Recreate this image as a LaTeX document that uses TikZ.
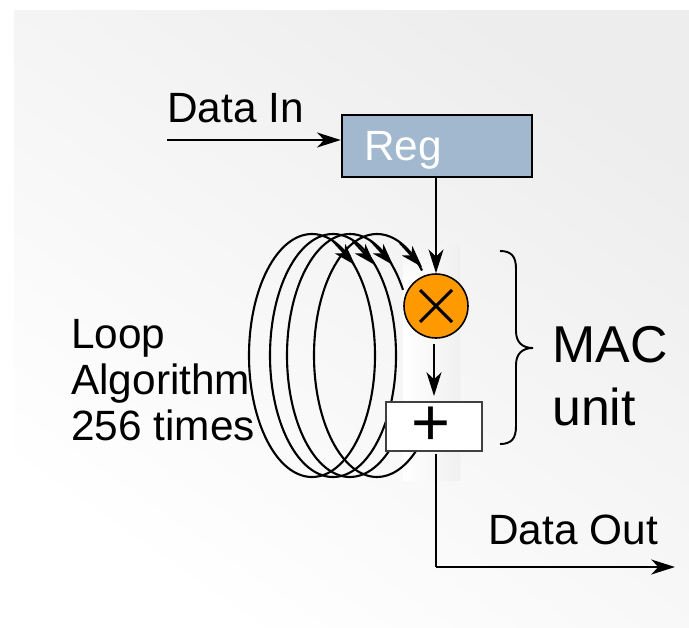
\documentclass[tikz,border=0pt]{standalone}
\usepackage{fontspec}
\setmainfont{Liberation Sans}
\usetikzlibrary{shapes, arrows.meta, positioning}
\definecolor{regblue}{HTML}{A1B8CF}
\definecolor{multorange}{HTML}{FF9900}
\tikzstyle{wline} = [draw, line width=1.25pt]
\tikzstyle{wcurve} = [draw, line width=1.2pt]
\tikzstyle{wtip} = [-{Stealth[length=13.5pt, width=8.5pt, inset=4pt]}]
\tikzstyle{wsmalltip} = [-{Stealth[length=12.5pt, width=8pt, inset=3.5pt]}]
\tikzstyle{wtext} = [inner sep=0pt, font=\fontsize{24.1}{26}\selectfont, align=left]
\tikzstyle{wring} = [x radius=63, y radius=121.5]

\begin{document}
\begin{tikzpicture}[x=0.02cm, y=0.02cm]
			\useasboundingbox (0,0) rectangle (689,627);
			\shade [bottom color=white, top color=black!7, shading angle=-35] (14,0) rectangle (689,617);
			\shade [left color=white, middle color=white, right color=black!6] (403,147) rectangle (460,382);
			\shade [top color=black!4.5, bottom color=white] (403,340) rectangle (436,382);

			\coordinate (ringa) at (312,393);
			\coordinate (ringb) at (333,393);
			\coordinate (ringc) at (350,393);
			\coordinate (ringd) at (377,393);
			\coordinate (heada) at (355,362);
			\coordinate (headb) at (375,362);
			\coordinate (headc) at (393,362);
			\coordinate (headd) at (422,360);
			\path [wcurve] (ringa) arc [start angle=90, end angle=450, wring];
			\path [wcurve] (ringb) arc [start angle=90, end angle=450, wring];
			\path [wcurve] (ringc) arc [start angle=90, end angle=308, wring];
			\path [wcurve] (ringc) arc [start angle=90, end angle=32.7, wring];
			\path [wcurve] (ringd) arc [start angle=90, end angle=308, wring];
			\path [wcurve] (ringd) arc [start angle=90, end angle=44.4, wring];
			\path [wcurve, wsmalltip] (heada) ++(-22,24) -- (heada);
			\path [wcurve, wsmalltip] (headb) ++(-22,24) -- (headb);
			\path [wcurve, wsmalltip] (headc) ++(-22,24) -- (headc);
			\path [wcurve, wsmalltip] (headd) ++(-22,24) -- (headd);

			\node [draw, line width=1.4pt, fill=regblue, minimum width=3.8cm, minimum height=1.24cm, text width=2.92cm, inner xsep=0.44cm, inner ysep=0pt, text height=22pt, text depth=5pt, align=left, text=white, font=\fontsize{24.1}{26}\selectfont] (reg) at (437,481) {Reg};
			\node [circle, draw, line width=0.9pt, fill=multorange, minimum size=1.28cm, inner sep=0pt] (mult) at (436,321) {};
			\node [draw=black!75, line width=0.85pt, fill=white, minimum width=1.92cm, minimum height=0.98cm, inner sep=0pt, font=\fontsize{38}{38}\selectfont] (plus) at (434,200.5) {\hspace*{-3.4pt}+};

			\coordinate (instart) at (167,487);
			\coordinate (corner) at (436,60);
			\coordinate (outend) at (675,60);

			\path [wline, wtip] (instart) -- (instart -| reg.west);
			\path [wline, wtip] (reg.south -| mult.north) -- (mult.north);
			\path [wline, wtip, shorten <=3pt, shorten >=3pt] (mult.south -| plus.north) -- (plus.north);
			\path [wline, shorten <=1pt] (plus.south -| corner) -- (corner);
			\path [wline, wtip] (corner) -- (outend);
			\path [draw, line width=1.7pt] (mult) ++(-16,-16) -- ++(32,32);
			\path [draw, line width=1.7pt] (mult) ++(-16,16) -- ++(32,-32);

			\path [draw, line width=1.1pt] (500,376) .. controls (512,376) and (516,370) .. (516,358) -- (516,296) .. controls (516,285) and (522,279) .. (533,279) .. controls (522,279) and (516,273) .. (516,262) -- (516,201) .. controls (516,189) and (512,183) .. (500,183);

			\node [wtext, anchor=base west] (datain) at (167,505) {Data In};
			\node [wtext, anchor=base west] (dataout) at (488,83) {Data Out};
			\node [wtext, anchor=west] (looptext) at (71,247) {Loop\\Algorithm\\256 times};
			\node [wtext, anchor=west, font=\fontsize{29.5}{36}\selectfont] (macunit) at (552,251) {MAC\\unit};
		\end{tikzpicture}
\end{document}
